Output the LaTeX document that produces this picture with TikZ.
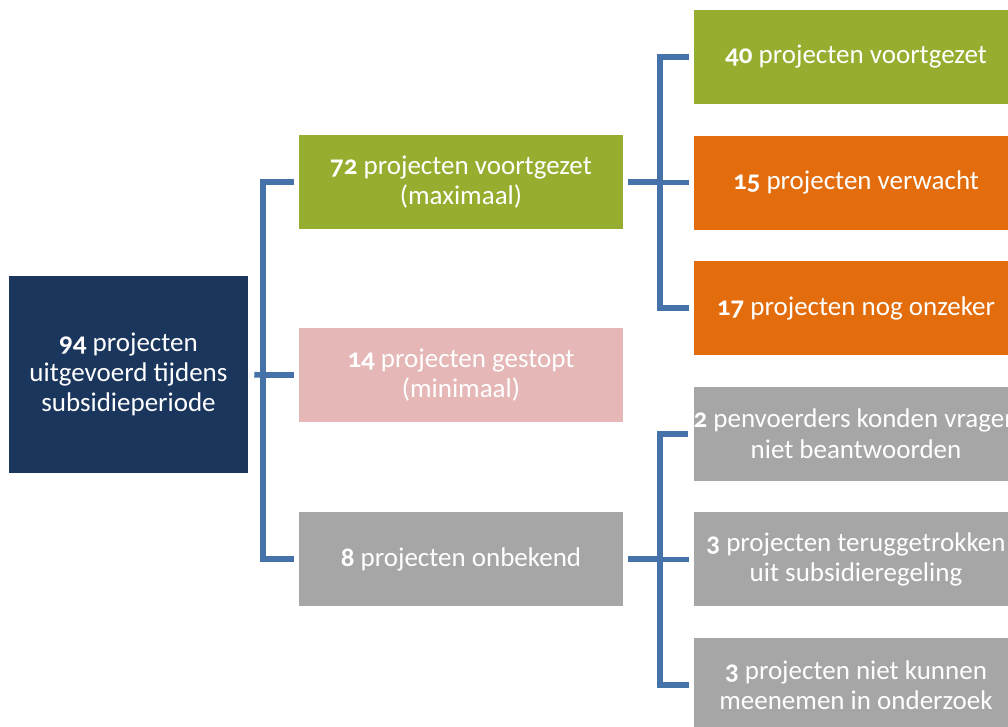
\documentclass[tikz,border=0pt]{standalone}
\usepackage{fontspec}
\setmainfont{Carlito}[Numbers=OldStyle]
\usetikzlibrary{positioning}
\definecolor{navy}{HTML}{1B365D}
\definecolor{leaf}{HTML}{95AE2F}
\definecolor{rust}{HTML}{E36C0C}
\definecolor{blush}{HTML}{E5B8B7}
\definecolor{stone}{HTML}{A6A6A6}
\definecolor{linkblue}{HTML}{4573A9}

\begin{document}
\begin{tikzpicture}[
x=0.025cm,
y=-0.025cm,
box/.style={
  draw=none,
  text=white,
  align=center,
  inner sep=0pt,
  minimum width=8.1cm,
  minimum height=2.35cm,
  font=\fontsize{19.2}{21.5}\selectfont
  },
rootbox/.style={
  box,
  fill=navy,
  minimum width=5.975cm,
  minimum height=4.925cm
  },
link/.style={
  draw=linkblue,
  line width=4pt
  },
node distance=0.775cm
]
\useasboundingbox (0,0) rectangle (1008,726);

\node[rootbox] (root) at (128.5,374.5) {\textbf{94} projecten\\uitgevoerd tijdens\\subsidieperiode};

\node[box, fill=leaf]  (n72) at (461,182) {\textbf{72} projecten voortgezet\\(maximaal)};
\node[box, fill=blush] (n14) at (461,375) {\textbf{14} projecten gestopt\\(minimaal)};
\node[box, fill=stone] (n8)  at (461,559) {\textbf{8} projecten onbekend};

\node[box, fill=leaf]  (n40) at (856,57) {\textbf{40} projecten voortgezet};
\node[box, fill=rust]  (n15) [below=of n40] {\textbf{15} projecten verwacht};
\node[box, fill=rust]  (n17) [below=of n15] {\textbf{17} projecten nog onzeker};
\node[box, fill=stone] (n2)  [below=of n17] {\textbf{2} penvoerders konden vragen\\niet beantwoorden};
\node[box, fill=stone] (n3a) [below=of n2]  {\textbf{3} projecten teruggetrokken\\uit subsidieregeling};
\node[box, fill=stone] (n3b) [below=of n3a] {\textbf{3} projecten niet kunnen\\meenemen in onderzoek};

\coordinate (j1) at (263,375);
\coordinate (j2) at (660,182);
\coordinate (j3) at (660,559);

\draw[link, shorten <=0.15cm] (root.east) -- (j1);
\foreach \t in {n72,n14,n8}
  \draw[link, shorten >=0.125cm] (j1) |- (\t.west);

\draw[link, shorten <=0.125cm] (n72.east) -- (j2);
\foreach \t in {n40,n15,n17}
  \draw[link, shorten >=0.125cm] (j2) |- (\t.west);

\draw[link, shorten <=0.125cm] (n8.east) -- (j3);
\foreach \t in {n2,n3a,n3b}
  \draw[link, shorten >=0.125cm] (j3) |- (\t.west);
\end{tikzpicture}
\end{document}
